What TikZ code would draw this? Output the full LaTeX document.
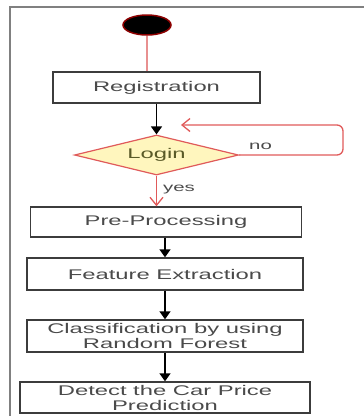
\documentclass[tikz,border=0pt]{standalone}
\usepackage{fontspec}
\setmainfont{Liberation Sans}[FakeStretch=1.7]
\usetikzlibrary{arrows.meta,shapes.geometric}
\definecolor{framegray}{HTML}{808080}
\definecolor{boxline}{HTML}{3C3C3C}
\definecolor{txtgray}{HTML}{4A4A4A}
\definecolor{umlred}{HTML}{E05A5A}
\definecolor{pinkline}{HTML}{E89090}
\definecolor{dfill}{HTML}{FFF6BE}
\definecolor{logintxt}{HTML}{5A5A28}
\tikzset{
  box/.style={draw=boxline, line width=1.4pt, rectangle, inner sep=1pt,
    text=txtgray, align=center, font=\fontsize{14}{15}\selectfont},
  flow/.style={draw=black, line width=1.6pt, -{Triangle[length=8pt,width=11pt]}},
  redflow/.style={draw=umlred, line width=1.3pt, -{Straight Barb[length=8pt,width=13pt]}},
  lbl/.style={text=txtgray, font=\fontsize{12}{13}\selectfont, inner sep=0pt}
}
\begin{document}
\begin{tikzpicture}[x=1pt,y=-1pt]
\useasboundingbox (0,0) rectangle (364,416);
% frame
\draw[framegray, line width=1.5pt] (10,416) -- (10,7) -- (364,7);
% start
\node[ellipse, fill=black, draw=red!55!black, line width=1.5pt, minimum width=48pt, minimum height=20pt, inner sep=0pt] (start) at (147,25) {};
% boxes
\node[box, minimum width=207pt, minimum height=31pt] (reg) at (156.5,87.5) {Registration};
\node[diamond, draw=umlred, line width=1.2pt, fill=dfill, text=logintxt, inner sep=0pt,
  minimum width=164pt, minimum height=40pt, aspect=4.1, font=\fontsize{14}{15}\selectfont] (login) at (156.5,155) {Login};
\node[box, minimum width=271pt, minimum height=30pt] (pre) at (166,222) {Pre-Processing};
\node[box, minimum width=276pt, minimum height=32pt] (feat) at (165,274) {Feature Extraction};
\node[box, minimum width=276pt, minimum height=32pt] (cls) at (165,336) {Classification by using\\Random Forest};
\node[box, minimum width=290pt, minimum height=31pt] (det) at (165,397.5) {Detect the Car Price\\Prediction};
% connectors
\draw[pinkline, line width=1.6pt] (start.south) -- (start.south |- reg.north);
\draw[flow] (reg.south) -- (login.north);
\coordinate (loopc) at (343,125);
\coordinate (loopend) at (181,125);
\draw[redflow, rounded corners=6pt] (login.east) -| (loopc) -- (loopend);
\node[lbl, anchor=west] (no) at (249,146) {no};
\draw[redflow] (login.south) -- (login.south |- pre.north);
\node[lbl, anchor=west] (yes) at (163,190) {yes};
\draw[flow] (feat.north |- pre.south) -- (feat.north);
\draw[flow] (feat.south) -- (cls.north);
\draw[flow] (cls.south) -- (det.north);
\end{tikzpicture}
\end{document}
